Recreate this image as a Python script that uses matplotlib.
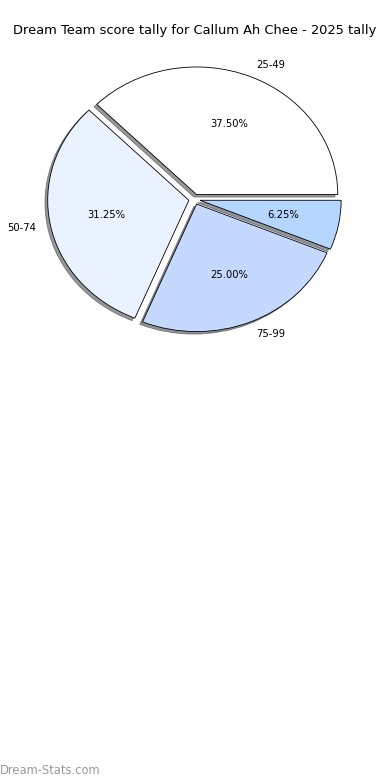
import matplotlib
matplotlib.use("Agg")
import matplotlib.pyplot as plt

categories = ["25-49", "50-74", "75-99", ""]
values = [37.5, 31.25, 25.0, 6.25]
colors = ["#ffffff", "#eaf1ff", "#c5d9ff", "#b5d6ff"]
explode = [0.04, 0.04, 0.04, 0.04]

fig = plt.figure(figsize=(3.9, 7.8), dpi=100)
ax = fig.add_axes([0.046, 0.540, 0.905, 0.409])
wedges, texts, autotexts = ax.pie(
    values, labels=categories, colors=colors, explode=explode,
    autopct="%.2f%%", shadow={"ox": -0.014, "oy": -0.014, "shade": 0.8},
    startangle=0,
    wedgeprops=dict(edgecolor="black", linewidth=0.6),
    textprops=dict(fontsize=7.2),
)
ax.set_aspect("auto")
ax.set_xlim(-1.25, 1.25)
ax.set_ylim(-1.25, 1.25)

fig.text(0.5, 0.961, "Dream Team score tally for Callum Ah Chee - 2025 tally",
         ha="center", va="center", fontsize=9.4)
fig.text(0.0, 0.012, "Dream-Stats.com", ha="left", va="center",
         fontsize=8.3, color="#999999")

fig.savefig("out.png", dpi=100)
